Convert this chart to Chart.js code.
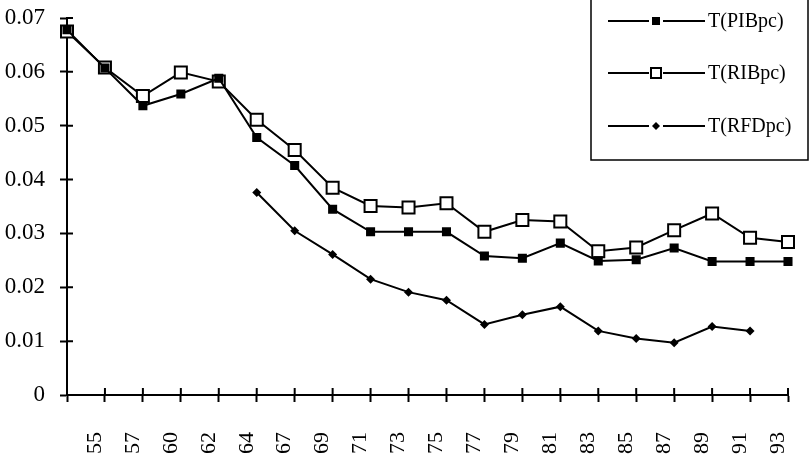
<!DOCTYPE html>
<html>
<head>
<meta charset="utf-8">
<script src="https://cdn.jsdelivr.net/npm/chart.js@4"></script>
<style>
  html, body { margin: 0; padding: 0; background: #fff; }
  #wrap { width: 810px; height: 462px; }
</style>
</head>
<body>
<div id="wrap"><canvas id="c" width="810" height="462"></canvas></div>
<script>
const years = ['', '55', '57', '60', '62', '64', '67', '69', '71', '73', '75', '77', '79', '81', '83', '85', '87', '89', '91', '93'];
const pibValues = [0.0678, 0.0607, 0.0537, 0.0559, 0.0588, 0.0478, 0.0426, 0.0345, 0.0303, 0.0303, 0.0303, 0.0258, 0.0254, 0.0282, 0.0249, 0.0251, 0.0273, 0.0248, 0.0248, 0.0248];
const ribValues = [0.0675, 0.0608, 0.0555, 0.0599, 0.0582, 0.0511, 0.0455, 0.0385, 0.0351, 0.0348, 0.0356, 0.0303, 0.0325, 0.0322, 0.0267, 0.0274, 0.0306, 0.0337, 0.0292, 0.0284];
const rfdValues = [null, null, null, null, null, 0.0376, 0.0305, 0.0261, 0.0215, 0.0191, 0.0176, 0.0131, 0.0149, 0.0164, 0.0119, 0.0105, 0.0097, 0.0127, 0.0119, null];
const seriesNames = ['T(PIBpc)', 'T(RIBpc)', 'T(RFDpc)'];

const serif = "'Liberation Serif', 'Times New Roman', serif";

// keep the plot box fixed: no extra padding from the axis labels
function fixBox(size, prop) {
    return (s) => {
        s[prop] = size;
        s.paddingTop = 0; s.paddingBottom = 0;
        s.paddingLeft = 0; s.paddingRight = 0;
    };
}

// ticks that cross the axis line (inner half)
const innerTicks = {
    id: 'innerTicks',
    afterDraw(chart) {
        const ctx = chart.ctx;
        const xs = chart.scales.x, ys = chart.scales.y;
        const area = chart.chartArea;
        ctx.save();
        ctx.strokeStyle = '#000';
        ctx.lineWidth = 2;
        ctx.beginPath();
        xs.ticks.forEach((t, i) => {
            const px = xs.getPixelForTick(i);
            ctx.moveTo(px, area.bottom);
            ctx.lineTo(px, area.bottom - 7);
        });
        ys.ticks.forEach((t, i) => {
            const py = ys.getPixelForTick(i);
            ctx.moveTo(area.left, py);
            ctx.lineTo(area.left + 6, py);
        });
        ctx.stroke();
        ctx.restore();
    }
};

// boxed legend with line + marker samples
const boxLegend = {
    id: 'boxLegend',
    afterDraw(chart) {
        const ctx = chart.ctx;
        ctx.save();
        ctx.fillStyle = '#fff';
        ctx.fillRect(591, -2, 217, 162);
        ctx.strokeStyle = '#000';
        ctx.lineWidth = 1.5;
        ctx.strokeRect(591, -2, 217, 162);
        const rows = [21, 73, 126];
        chart.data.datasets.forEach((ds, i) => {
            const y = rows[i];
            const mx = 656;
            ctx.strokeStyle = '#000';
            ctx.lineWidth = 2;
            ctx.beginPath();
            ctx.moveTo(608, y); ctx.lineTo(mx - 7, y);
            ctx.moveTo(mx + 7, y); ctx.lineTo(705, y);
            ctx.stroke();
            ctx.fillStyle = ds.pointBackgroundColor;
            if (ds.pointStyle === 'rectRot') {
                ctx.beginPath();
                ctx.moveTo(mx, y - 4); ctx.lineTo(mx + 4, y);
                ctx.lineTo(mx, y + 4); ctx.lineTo(mx - 4, y);
                ctx.closePath();
                ctx.fill();
            } else if (i === 0) {
                ctx.fillRect(mx - 4, y - 4, 8, 8);
            } else {
                ctx.fillRect(mx - 5, y - 5, 10, 10);
                ctx.strokeRect(mx - 5, y - 5, 10, 10);
            }
            ctx.fillStyle = '#000';
            ctx.font = '20px ' + serif;
            ctx.textBaseline = 'middle';
            ctx.textAlign = 'left';
            ctx.fillText(ds.label, 708, y + 1);
        });
        ctx.restore();
    }
};

new Chart(document.getElementById('c'), {
    type: 'line',
    data: {
        labels: years,
        datasets: [{
            label: seriesNames[0],
            data: pibValues,
            borderColor: '#000',
            borderWidth: 2,
            pointStyle: 'rect',
            pointRadius: 6.4,
            pointBackgroundColor: '#000',
            pointBorderWidth: 0,
            tension: 0
        }, {
            label: seriesNames[1],
            data: ribValues,
            borderColor: '#000',
            borderWidth: 2,
            pointStyle: 'rect',
            pointRadius: 8.5,
            pointBackgroundColor: '#fff',
            pointBorderColor: '#000',
            pointBorderWidth: 2,
            tension: 0
        }, {
            label: seriesNames[2],
            data: rfdValues,
            borderColor: '#000',
            borderWidth: 2,
            pointStyle: 'rectRot',
            pointRadius: 4.5,
            pointBackgroundColor: '#000',
            pointBorderWidth: 0,
            tension: 0
        }]
    },
    options: {
        responsive: false,
        animation: false,
        layout: { padding: { top: 18, right: 22, left: 0, bottom: 0 } },
        plugins: { legend: { display: false }, tooltip: { enabled: false } },
        scales: {
            x: {
                offset: false,
                afterFit: fixBox(67, 'height'),
                grid: { display: true, drawOnChartArea: false, tickLength: 7, tickWidth: 2, tickColor: '#000' },
                border: { color: '#000', width: 2 },
                ticks: {
                    autoSkip: false,
                    minRotation: 90,
                    maxRotation: 90,
                    padding: 30,
                    labelOffset: -10,
                    color: '#000',
                    font: { family: serif, size: 22 }
                }
            },
            y: {
                min: 0,
                max: 0.07,
                afterFit: fixBox(67, 'width'),
                grid: { display: true, drawOnChartArea: false, tickLength: 7, tickWidth: 2, tickColor: '#000' },
                border: { color: '#000', width: 2 },
                ticks: {
                    stepSize: 0.01,
                    padding: 15,
                    color: '#000',
                    font: { family: serif, size: 23 }
                }
            }
        }
    },
    plugins: [innerTicks, boxLegend]
});
</script>
</body>
</html>
